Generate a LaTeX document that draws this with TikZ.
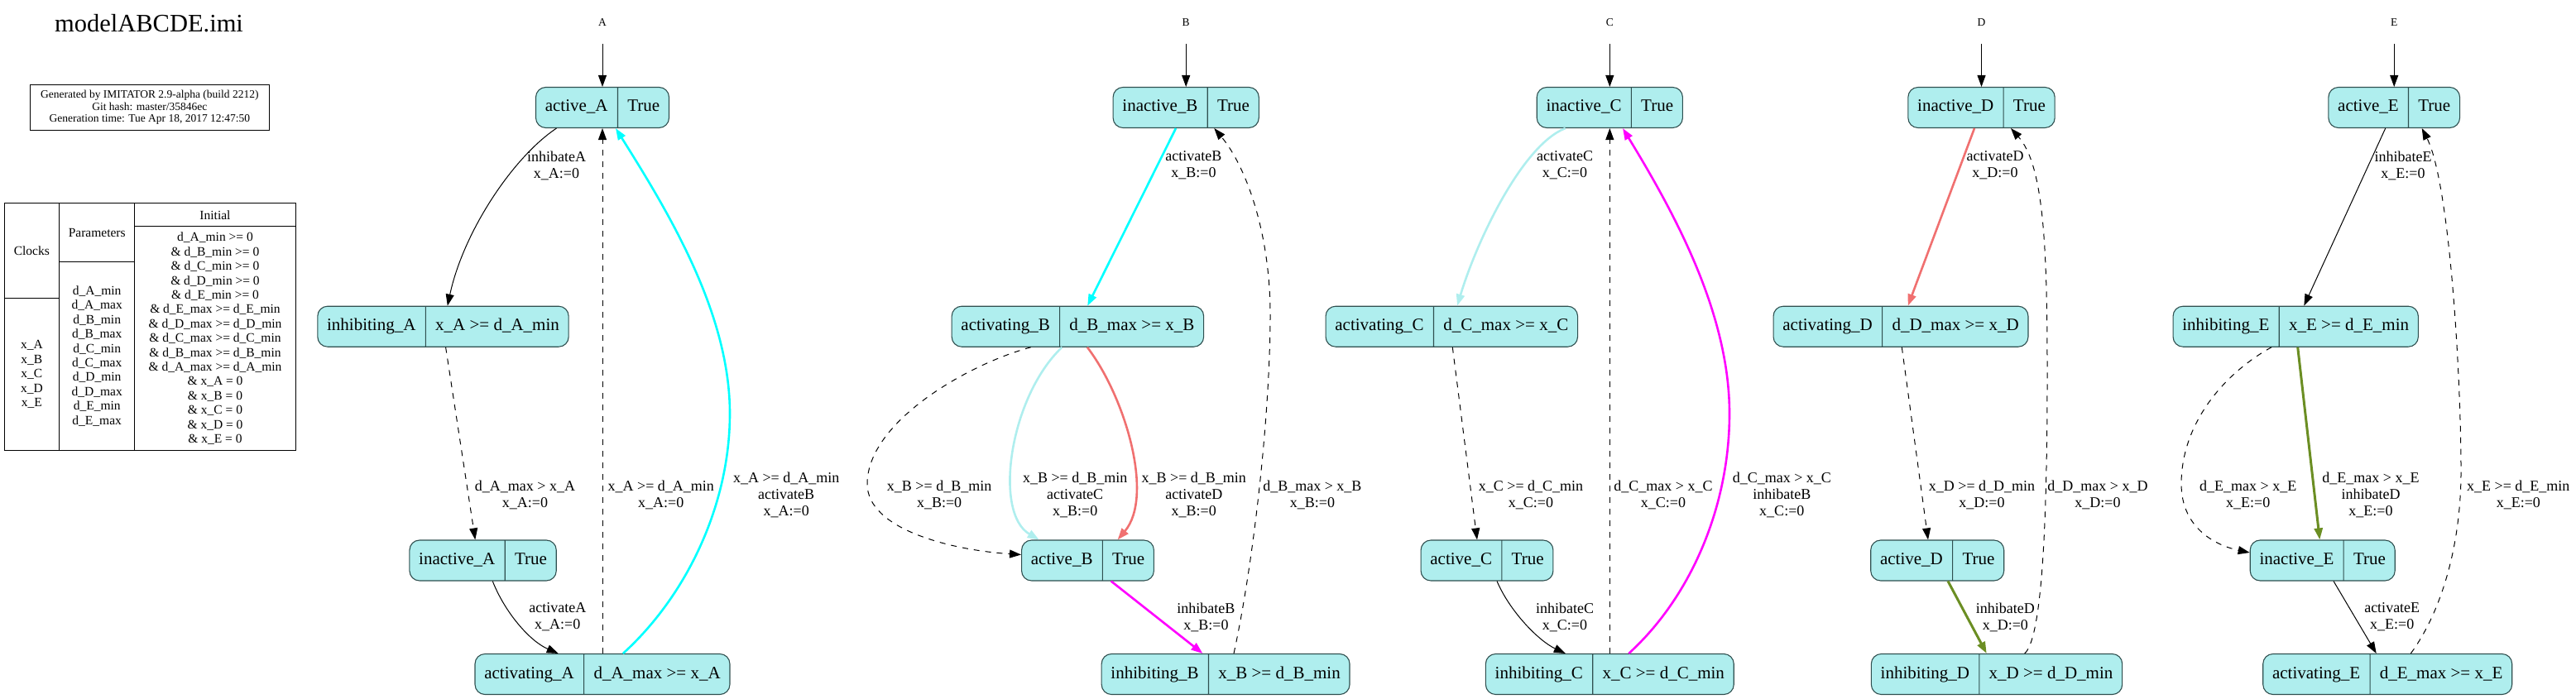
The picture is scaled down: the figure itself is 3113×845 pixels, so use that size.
\documentclass[tikz,border=0pt]{standalone}
\usepackage{fontspec}
\setmainfont{Liberation Serif}
\usepackage{xcolor}
\usetikzlibrary{shapes.multipart,arrows.meta}

\definecolor{locfill}{HTML}{AFEEEE}
\definecolor{locline}{HTML}{2F4F4F}
\definecolor{actcyan}{HTML}{00FFFF}
\definecolor{actpale}{HTML}{AFEEEE}
\definecolor{actcoral}{HTML}{F07070}
\definecolor{inhmag}{HTML}{FF00FF}
\definecolor{inholive}{HTML}{6B8E23}

\begin{document}
\begin{tikzpicture}[x=1pt, y=-1pt,
    loc/.style={rectangle split, rectangle split horizontal, rectangle split parts=2,
      draw=locline, fill=locfill, line width=1.1pt, rounded corners=12pt,
      inner xsep=11.3pt, inner ysep=12pt, font=\fontsize{21}{25}\selectfont},
    lbl/.style={align=center, inner sep=0pt, font=\fontsize{18}{20}\selectfont},
    trans/.style={-{Triangle[length=14pt,width=10pt]}, line width=1pt},
    wait/.style={trans, dash pattern=on 7pt off 7pt},
    sync/.style={trans, line width=2.6pt},
    initlbl/.style={inner sep=0pt, font=\fontsize{13.5}{15}\selectfont},
    cell/.style={draw, line width=1pt, anchor=north west, inner sep=0pt, outer sep=0pt,
      align=center, font=\fontsize{15.5}{17.4}\selectfont}]
    \useasboundingbox (0,0) rectangle (3113,845);

    % legend
    \node [font=\fontsize{30.5}{32}\selectfont] (title) at (180,28.3) {modelABCDE.imi};
    \node [draw, line width=1pt, minimum width=288.3pt, minimum height=55pt, align=center,
      font=\fontsize{13.5}{14.2}\selectfont] (info) at (180.9,129.8)
      {Generated by IMITATOR 2.9-alpha (build 2212)\\Git hash: master/35846ec\\Generation time: Tue Apr 18, 2017 12:47:50};
    \node [cell, minimum width=66.7pt, minimum height=115pt] (clkhead) at (5,245.7) {Clocks};
    \node [cell, minimum width=66.7pt, minimum height=183.9pt] (clkbody) at (clkhead.south west)
      {x\_A\\x\_B\\x\_C\\x\_D\\x\_E};
    \node [cell, minimum width=91pt, minimum height=70.7pt] (parhead) at (clkhead.north east) {Parameters};
    \node [cell, minimum width=91pt, minimum height=228.2pt] (parbody) at (parhead.south west)
      {d\_A\_min\\d\_A\_max\\d\_B\_min\\d\_B\_max\\d\_C\_min\\d\_C\_max\\d\_D\_min\\d\_D\_max\\d\_E\_min\\d\_E\_max};
    \node [cell, minimum width=194.6pt, minimum height=28.2pt] (inihead) at (parhead.north east) {Initial};
    \node [cell, minimum width=194.6pt, minimum height=270.7pt] (inibody) at (inihead.south west)
      {d\_A\_min >= 0\\\& d\_B\_min >= 0\\\& d\_C\_min >= 0\\\& d\_D\_min >= 0\\\& d\_E\_min >= 0\\
       \& d\_E\_max >= d\_E\_min\\\& d\_D\_max >= d\_D\_min\\\& d\_C\_max >= d\_C\_min\\
       \& d\_B\_max >= d\_B\_min\\\& d\_A\_max >= d\_A\_min\\
       \& x\_A = 0\\\& x\_B = 0\\\& x\_C = 0\\\& x\_D = 0\\\& x\_E = 0};

    % automaton A
    \node [initlbl] (initA) at (728,27) {A};
    \coordinate (startA) at (728,53);
    \node [loc] (actA) at (728,130) {\strut active\_A \nodepart{two} \strut True};
    \node [loc] (inhA) at (535.5,394.7) {\strut inhibiting\_A \nodepart{two} \strut x\_A >= d\_A\_min};
    \node [loc] (inaA) at (583.6,677.5) {\strut inactive\_A \nodepart{two} \strut True};
    \node [loc] (acgA) at (728,815) {\strut activating\_A \nodepart{two} \strut d\_A\_max >= x\_A};
    \draw [trans] (startA) -- (actA);
    \draw [trans] ([xshift=-55.5pt]actA.south) .. controls (620,190) and (560,280) .. ([xshift=5.3pt]inhA.north);
    \draw [wait] ([xshift=3.1pt]inhA.south) -- ([xshift=-9.3pt]inaA.north);
    \draw [trans] ([xshift=11.7pt]inaA.south) .. controls (610,740) and (640,775) .. ([xshift=-53.3pt]acgA.north);
    \draw [wait] (acgA.north) -- (actA.south);
    \draw [sync, actcyan] ([xshift=24.9pt]acgA.north) .. controls (830,720) and (882,610) .. (882,500)
      .. controls (882,380) and (810,260) .. ([xshift=16pt]actA.south);
    \node [lbl] (lAinh) at (672.5,200) {inhibateA\\x\_A:=0};
    \node [lbl] (lAout) at (634.5,598) {d\_A\_max > x\_A\\x\_A:=0};
    \node [lbl] (lAact) at (673.8,746) {activateA\\x\_A:=0};
    \node [lbl] (lAup) at (798.8,598) {x\_A >= d\_A\_min\\x\_A:=0};
    \node [lbl] (lAsync) at (950.2,598) {x\_A >= d\_A\_min\\activateB\\x\_A:=0};

    % automaton B
    \node [initlbl] (initB) at (1433.2,27) {B};
    \coordinate (startB) at (1433.2,53);
    \node [loc] (inaB) at (1433.2,130) {\strut inactive\_B \nodepart{two} \strut True};
    \node [loc] (acgB) at (1302.4,394.7) {\strut activating\_B \nodepart{two} \strut d\_B\_max >= x\_B};
    \node [loc] (actB) at (1314.5,677.5) {\strut active\_B \nodepart{two} \strut True};
    \node [loc] (inhB) at (1481.1,815) {\strut inhibiting\_B \nodepart{two} \strut x\_B >= d\_B\_min};
    \draw [trans] (startB) -- (inaB);
    \draw [sync, actcyan] ([xshift=-12.2pt]inaB.south) -- ([xshift=11.8pt]acgB.north);
    \draw [wait] ([xshift=-56.6pt]acgB.south) .. controls (1170,440) and (1048,510) .. (1048,585)
      .. controls (1048,640) and (1150,665) .. ([yshift=7pt]actB.west);
    \draw [sync, actpale] ([xshift=-19pt]acgB.south) .. controls (1220,480) and (1200,620) .. ([xshift=-58.8pt]actB.north);
    \draw [sync, actcoral] ([xshift=11.5pt]acgB.south) .. controls (1360,480) and (1395,600) .. ([xshift=36.1pt]actB.north);
    \draw [sync, inhmag] ([xshift=28.2pt]actB.south) -- ([xshift=-27.7pt]inhB.north);
    \draw [wait] ([xshift=9.9pt]inhB.north) .. controls (1515,680) and (1535,500) .. (1535,380)
      .. controls (1535,280) and (1505,200) .. ([xshift=34.1pt]inaB.south);
    \node [lbl] (lBact) at (1442.4,200) {activateB\\x\_B:=0};
    \node [lbl] (lBout) at (1135.1,598) {x\_B >= d\_B\_min\\x\_B:=0};
    \node [lbl] (lBsyncC) at (1299.2,598) {x\_B >= d\_B\_min\\activateC\\x\_B:=0};
    \node [lbl] (lBsyncD) at (1442.8,598) {x\_B >= d\_B\_min\\activateD\\x\_B:=0};
    \node [lbl] (lBinh) at (1457.4,746) {inhibateB\\x\_B:=0};
    \node [lbl] (lBup) at (1585.9,598) {d\_B\_max > x\_B\\x\_B:=0};

    % automaton C
    \node [initlbl] (initC) at (1945.3,27) {C};
    \coordinate (startC) at (1945.3,53);
    \node [loc] (inaC) at (1945.3,130) {\strut inactive\_C \nodepart{two} \strut True};
    \node [loc] (acgC) at (1754.3,394.7) {\strut activating\_C \nodepart{two} \strut d\_C\_max >= x\_C};
    \node [loc] (actC) at (1797,677.5) {\strut active\_C \nodepart{two} \strut True};
    \node [loc] (inhC) at (1945.3,815) {\strut inhibiting\_C \nodepart{two} \strut x\_C >= d\_C\_min};
    \draw [trans] (startC) -- (inaC);
    \draw [sync, actpale] ([xshift=-53.6pt]inaC.south) .. controls (1840,175) and (1785,290) .. ([xshift=6.7pt]acgC.north);
    \draw [wait] ([xshift=1pt]acgC.south) -- ([xshift=-12pt]actC.north);
    \draw [trans] ([xshift=12pt]actC.south) .. controls (1825,740) and (1860,775) .. ([xshift=-53.5pt]inhC.north);
    \draw [wait] (inhC.north) -- (inaC.south);
    \draw [sync, inhmag] ([xshift=23pt]inhC.north) .. controls (2045,720) and (2090,610) .. (2090,500)
      .. controls (2090,380) and (2025,260) .. ([xshift=15.7pt]inaC.south);
    \node [lbl] (lCact) at (1891,200) {activateC\\x\_C:=0};
    \node [lbl] (lCout) at (1850,598) {x\_C >= d\_C\_min\\x\_C:=0};
    \node [lbl] (lCinh) at (1891,746) {inhibateC\\x\_C:=0};
    \node [lbl] (lCup) at (2010,598) {d\_C\_max > x\_C\\x\_C:=0};
    \node [lbl] (lCsync) at (2153.3,598) {d\_C\_max > x\_C\\inhibateB\\x\_C:=0};

    % automaton D
    \node [initlbl] (initD) at (2394.5,27) {D};
    \coordinate (startD) at (2394.5,53);
    \node [loc] (inaD) at (2394.5,130) {\strut inactive\_D \nodepart{two} \strut True};
    \node [loc] (acgD) at (2297,394.7) {\strut activating\_D \nodepart{two} \strut d\_D\_max >= x\_D};
    \node [loc] (actD) at (2341.2,677.5) {\strut active\_D \nodepart{two} \strut True};
    \node [loc] (inhD) at (2413,815) {\strut inhibiting\_D \nodepart{two} \strut x\_D >= d\_D\_min};
    \draw [trans] (startD) -- (inaD);
    \draw [sync, actcoral] ([xshift=-8.5pt]inaD.south) -- ([xshift=8.7pt]acgD.north);
    \draw [wait] ([xshift=1.3pt]acgD.south) -- ([xshift=-11.2pt]actD.north);
    \draw [sync, inholive, line width=3pt] ([xshift=12.8pt]actD.south) -- ([xshift=-12.3pt]inhD.north);
    \draw [wait] ([xshift=33.7pt]inhD.north) .. controls (2470,770) and (2474,600) .. (2474,450)
      .. controls (2474,300) and (2470,200) .. ([xshift=35.5pt]inaD.south);
    \node [lbl] (lDact) at (2411,200) {activateD\\x\_D:=0};
    \node [lbl] (lDout) at (2395,598) {x\_D >= d\_D\_min\\x\_D:=0};
    \node [lbl] (lDinh) at (2423.3,746) {inhibateD\\x\_D:=0};
    \node [lbl] (lDup) at (2535,598) {d\_D\_max > x\_D\\x\_D:=0};

    % automaton E
    \node [initlbl] (initE) at (2893.2,27) {E};
    \coordinate (startE) at (2893.2,53);
    \node [loc] (actE) at (2893.2,130) {\strut active\_E \nodepart{two} \strut True};
    \node [loc] (inhE) at (2774.2,394.7) {\strut inhibiting\_E \nodepart{two} \strut x\_E >= d\_E\_min};
    \node [loc] (inaE) at (2806.7,677.5) {\strut inactive\_E \nodepart{two} \strut True};
    \node [loc] (acgE) at (2885.2,815) {\strut activating\_E \nodepart{two} \strut d\_E\_max >= x\_E};
    \draw [trans] (startE) -- (actE);
    \draw [trans] ([xshift=-10.5pt]actE.south) -- ([xshift=10.1pt]inhE.north);
    \draw [wait] ([xshift=-29.2pt]inhE.south) .. controls (2690,450) and (2636,510) .. (2636,585)
      .. controls (2636,640) and (2680,660) .. ([yshift=9.5pt]inaE.west);
    \draw [sync, inholive, line width=3pt] ([xshift=2.5pt]inhE.south) -- ([xshift=-3.4pt]inaE.north);
    \draw [trans] ([xshift=13.3pt]inaE.south) -- ([xshift=-13.5pt]acgE.north);
    \draw [wait] ([xshift=28.1pt]acgE.north) .. controls (2950,740) and (2974,660) .. (2974,570)
      .. controls (2974,450) and (2960,220) .. ([xshift=33.5pt]actE.south);
    \node [lbl] (lEinh) at (2904,200) {inhibateE\\x\_E:=0};
    \node [lbl] (lEout) at (2716.7,598) {d\_E\_max > x\_E\\x\_E:=0};
    \node [lbl] (lEsync) at (2865,598) {d\_E\_max > x\_E\\inhibateD\\x\_E:=0};
    \node [lbl] (lEact) at (2890.7,746) {activateE\\x\_E:=0};
    \node [lbl] (lEup) at (3043.3,598) {x\_E >= d\_E\_min\\x\_E:=0};
\end{tikzpicture}
\end{document}
